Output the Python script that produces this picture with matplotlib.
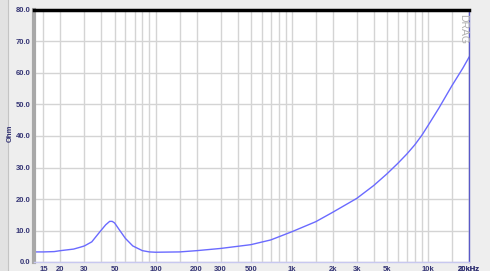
import matplotlib.pyplot as plt
from matplotlib.patches import Rectangle

# impedance curve
freq = [12.8, 15, 18, 20, 25, 28, 30, 34, 39, 43, 46, 48, 50, 54, 60, 68, 80, 90,
        100, 150, 200, 300, 500, 700, 1000, 1500, 2000, 3000, 4000, 5000, 6000,
        7000, 8000, 9000, 10000, 12000, 15000, 18000, 20000]
ohm = [3.2, 3.2, 3.3, 3.6, 4.1, 4.7, 5.1, 6.4, 9.6, 11.8, 12.9, 12.9, 12.4, 10.3,
       7.5, 5.1, 3.6, 3.2, 3.1, 3.2, 3.6, 4.3, 5.5, 7.0, 9.6, 12.8, 15.8, 20.2,
       24.3, 28.0, 31.3, 34.3, 37.2, 40.2, 43.3, 48.8, 56.0, 61.5, 65.0]

x_labels = {15: '15', 20: '20', 30: '30', 50: '50', 100: '100', 200: '200',
            300: '300', 500: '500', 1000: '1k', 2000: '2k', 3000: '3k',
            5000: '5k', 10000: '10k', 20000: '20kHz'}
y_ticks = [0, 10, 20, 30, 40, 50, 60, 70, 80]

# grid positions: 1, 1.5, 2..9 in each decade
grid_x = []
for dec in [10, 100, 1000, 10000]:
    for m in [1, 1.5, 2, 3, 4, 5, 6, 7, 8, 9]:
        f = m * dec
        if 12.8 < f <= 20000:
            grid_x.append(f)
grid_x.append(20000)

txt = '#353575'

fig = plt.figure(figsize=(4.9, 2.71), dpi=100, facecolor='#eeeeee')
fig.patches.append(Rectangle((0, 0), 8 / 490, 1, transform=fig.transFigure,
                             facecolor='#e2e2e2', edgecolor='none'))
fig.lines.append(plt.Line2D([8 / 490, 8 / 490], [0, 1], transform=fig.transFigure,
                            color='#c4c4c4', lw=0.8))

ax = fig.add_axes([34 / 490, 9 / 271, 435 / 490, 252 / 271])
ax.set_facecolor('white')
ax.set_xscale('log')
ax.set_xlim(12.8, 20000)
ax.set_ylim(0, 80)

ax.plot(freq, ohm, color='#6a6aff', lw=1.0)

ax.minorticks_off()
ax.set_xticks(grid_x)
ax.set_xticklabels([x_labels.get(int(round(f)), '') for f in grid_x])
ax.set_yticks(y_ticks)
ax.set_yticklabels([f'{v:.1f}' for v in y_ticks])
ax.grid(True, color='#d4d4d4', lw=1.0)
ax.set_axisbelow(True)

ax.tick_params(axis='both', length=0, labelcolor=txt, labelsize=5.5)
ax.tick_params(axis='x', pad=3)
ax.tick_params(axis='y', pad=2.5)
for lab in ax.get_xticklabels() + ax.get_yticklabels():
    lab.set_fontfamily('Liberation Sans')
    lab.set_fontweight('bold')

ax.spines['top'].set_color('black')
ax.spines['top'].set_linewidth(2.5)
ax.spines['left'].set_color('#a8a8a8')
ax.spines['left'].set_linewidth(3)
ax.spines['right'].set_color('#5a5ac8')
ax.spines['right'].set_linewidth(1)
ax.spines['bottom'].set_color('#c8c8f0')
ax.spines['bottom'].set_linewidth(1)

fig.text(10 / 490, 1 - 133 / 271, 'Ohm', rotation=90, ha='center', va='center',
         color=txt, fontsize=5.5, fontweight='bold', family='Liberation Sans')
ax.text(0.997, 0.985, 'DRAG', transform=ax.transAxes, rotation=270, ha='right',
        va='top', color='#b0b0b0', fontsize=7.5, family='Liberation Sans')

fig.savefig('out.png', dpi=100, facecolor=fig.get_facecolor())
